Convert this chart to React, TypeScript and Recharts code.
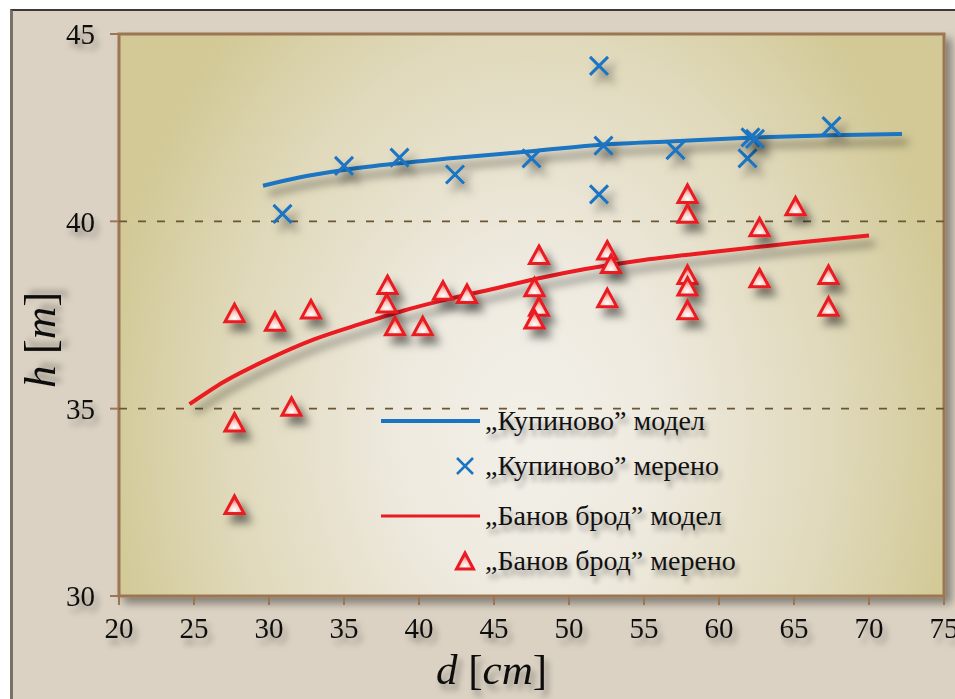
import React from "react";
import {
  ComposedChart,
  XAxis,
  YAxis,
  Line,
  Scatter,
  ReferenceLine,
  ReferenceArea,
  Label,
} from "recharts";

const xTicks = [20, 25, 30, 35, 40, 45, 50, 55, 60, 65, 70, 75];
const yTicks = [30, 35, 40, 45];

// „Купиново” модел
const kupModelD = [29.6, 32, 35, 38.7, 42.5, 47.5, 52.3, 57, 62.3, 67.5, 72.2];
const kupModelH = [40.95, 41.17, 41.37, 41.55, 41.7, 41.87, 42.05, 42.14, 42.24, 42.3, 42.33];

// „Купиново” мерено
const kupMeasD = [30.9, 35.0, 38.7, 42.4, 47.5, 52.0, 52.3, 52.0, 57.1, 61.9, 62.1, 62.4, 67.5];
const kupMeasH = [40.2, 41.48, 41.7, 41.25, 41.68, 44.15, 42.02, 40.72, 41.9, 41.68, 42.24, 42.2, 42.54];

// „Банов брод” модел
const banModelD = [24.7, 27, 30, 33, 36, 39, 42, 45, 48, 51, 55, 60, 65, 70];
const banModelH = [35.12, 35.72, 36.33, 36.85, 37.25, 37.62, 37.93, 38.2, 38.48, 38.72, 38.97, 39.2, 39.42, 39.62];

// „Банов брод” мерено
const banMeasD = [
  27.7, 27.7, 27.7, 30.4, 32.8, 31.5, 37.9, 37.85, 38.4, 40.25, 41.6, 43.2, 48.0, 47.7, 48.0,
  47.7, 52.55, 52.8, 52.55, 57.9, 57.9, 57.9, 57.9, 57.9, 62.7, 62.7, 65.1, 67.3, 67.3,
];
const banMeasH = [
  37.55, 34.63, 32.43, 37.32, 37.65, 35.05, 38.3, 37.81, 37.2, 37.2, 38.15, 38.06, 39.1, 38.24, 37.72,
  37.38, 39.22, 38.86, 37.95, 40.73, 40.2, 38.57, 38.26, 37.63, 39.84, 38.48, 40.4, 38.57, 37.72,
];

const zip = (d: number[], h: number[]) => d.map((v, i) => ({ d: v, h: h[i] }));

const BLUE = "#1b74c2";
const RED = "#ea1a24";
const BROWN = "#9c7652";
const SERIF = "'Liberation Serif', 'Times New Roman', serif";

const Cross = (props: any) => {
  const { cx, cy } = props;
  if (cx == null || cy == null) return null;
  return (
    <path
      d={`M${cx - 9},${cy - 9}L${cx + 9},${cy + 9}M${cx - 9},${cy + 9}L${cx + 9},${cy - 9}`}
      stroke={BLUE}
      strokeWidth={3}
      fill="none"
      filter="url(#markShadow)"
    />
  );
};

const Tri = (props: any) => {
  const { cx, cy } = props;
  if (cx == null || cy == null) return null;
  return (
    <path
      d={`M${cx},${cy - 9}L${cx + 9.5},${cy + 8.5}L${cx - 9.5},${cy + 8.5}Z`}
      fill="url(#triFill)"
      stroke={RED}
      strokeWidth={3}
      filter="url(#markShadow)"
    />
  );
};

const PlotBox = (props: any) => {
  const { x, y, width, height } = props;
  return (
    <rect
      x={x}
      y={y}
      width={width}
      height={height}
      fill="url(#plotBg)"
      stroke={BROWN}
      strokeWidth={3}
      filter="url(#boxShadow)"
    />
  );
};

const XTick = (props: any) => (
  <text
    x={props.x}
    y={props.y}
    dy="0.71em"
    textAnchor="middle"
    fontFamily={SERIF}
    fontSize={29}
    fill="#111"
    filter="url(#txtShadow)"
  >
    {props.payload.value}
  </text>
);

const YTick = (props: any) => (
  <text
    x={props.x}
    y={props.y}
    dy="0.36em"
    textAnchor="end"
    fontFamily={SERIF}
    fontSize={29}
    fill="#111"
    filter="url(#txtShadow)"
  >
    {props.payload.value}
  </text>
);

const legendRows = [
  { label: "„Купиново” модел", icon: "blueLine" },
  { label: "„Купиново” мерено", icon: "cross" },
  { label: "„Банов брод” модел", icon: "redLine" },
  { label: "„Банов брод” мерено", icon: "tri" },
];

function LegendIcon({ kind }: { kind: string }) {
  return (
    <svg width={100} height={24} style={{ overflow: "visible", flex: "none" }}>
      {kind === "blueLine" && <line x1={0} x2={99} y1={12} y2={12} stroke={BLUE} strokeWidth={4} />}
      {kind === "redLine" && <line x1={0} x2={99} y1={12} y2={12} stroke={RED} strokeWidth={3} />}
      {kind === "cross" && (
        <path d="M76,4L92,20M76,20L92,4" stroke={BLUE} strokeWidth={2.5} fill="none" />
      )}
      {kind === "tri" && (
        <g>
          <defs>
            <radialGradient id="triFillL" cx="50%" cy="80%" r="70%">
              <stop offset="0" stopColor="#ffffff" />
              <stop offset="0.5" stopColor="#f6c4b8" />
              <stop offset="1" stopColor="#e84a44" />
            </radialGradient>
          </defs>
          <path d="M84,4L92.5,20L75.5,20Z" fill="url(#triFillL)" stroke={RED} strokeWidth={3} />
        </g>
      )}
    </svg>
  );
}

export default function App() {
  return (
    <div style={{ position: "absolute", left: 0, top: 0, width: 955, height: 699, overflow: "hidden", background: "#fff" }}>
      <div
        style={{
          position: "absolute",
          left: 10,
          top: 9,
          width: 960,
          height: 700,
          background: "#dbd2c3",
          borderLeft: "3px solid #77716a",
          borderTop: "2px solid #3a3a3a",
          boxSizing: "border-box",
        }}
      />
      <div style={{ position: "absolute", left: 0, top: 0 }}>
        <ComposedChart width={955} height={699} margin={{ top: 34, right: 11, bottom: 43, left: 59 }}>
          <defs>
            <radialGradient
              id="plotBg"
              gradientUnits="userSpaceOnUse"
              cx={0}
              cy={0}
              r={1}
              gradientTransform="translate(530 430) scale(430 560)"
            >
              <stop offset="0" stopColor="#f3f0e9" />
              <stop offset="0.3" stopColor="#eeeadf" />
              <stop offset="0.7" stopColor="#e0d9bb" />
              <stop offset="1" stopColor="#d2c996" />
            </radialGradient>
            <radialGradient id="triFill" cx="50%" cy="80%" r="70%">
              <stop offset="0" stopColor="#ffffff" />
              <stop offset="0.5" stopColor="#f6c4b8" />
              <stop offset="1" stopColor="#e84a44" />
            </radialGradient>
            <filter id="markShadow" filterUnits="userSpaceOnUse" x={0} y={0} width={955} height={699}>
              <feDropShadow dx={6} dy={8} stdDeviation={4} floodColor="#000" floodOpacity={0.5} />
            </filter>
            <filter id="boxShadow" filterUnits="userSpaceOnUse" x={0} y={0} width={955} height={699}>
              <feDropShadow dx={6} dy={6} stdDeviation={4} floodColor="#000" floodOpacity={0.4} />
            </filter>
            <filter id="txtShadow" filterUnits="userSpaceOnUse" x={0} y={0} width={955} height={699}>
              <feDropShadow dx={4} dy={6} stdDeviation={3} floodColor="#000" floodOpacity={0.35} />
            </filter>
          </defs>

          <XAxis
            type="number"
            dataKey="d"
            domain={[20, 75]}
            ticks={xTicks}
            allowDataOverflow
            height={60}
            axisLine={false}
            tickSize={9}
            tickMargin={12}
            tickLine={{ stroke: BROWN, strokeWidth: 2 }}
            tick={<XTick />}
          >
            <Label
              content={(p: any) => {
                const vb = p.viewBox || { x: 119, y: 596, width: 825, height: 60 };
                return (
                  <text
                    x={vb.x + vb.width / 2 - 40}
                    y={vb.y + vb.height + 28}
                    textAnchor="middle"
                    fontFamily={SERIF}
                    fontSize={43}
                    fill="#111"
                    filter="url(#txtShadow)"
                  >
                    <tspan fontStyle="italic">d</tspan>
                    <tspan> [</tspan>
                    <tspan fontStyle="italic">cm</tspan>
                    <tspan>]</tspan>
                  </text>
                );
              }}
            />
          </XAxis>
          <YAxis
            type="number"
            domain={[30, 45]}
            ticks={yTicks}
            allowDataOverflow
            width={60}
            axisLine={false}
            tickSize={9}
            tickMargin={15}
            tickLine={{ stroke: BROWN, strokeWidth: 2 }}
            tick={<YTick />}
          >
            <Label
              content={(p: any) => {
                const vb = p.viewBox || { x: 59, y: 34, width: 60, height: 562 };
                const cx = vb.x - 4;
                const cy = vb.y + vb.height / 2 + 25;
                return (
                  <text
                    x={cx}
                    y={cy}
                    transform={`rotate(-90 ${cx} ${cy})`}
                    textAnchor="middle"
                    fontFamily={SERIF}
                    fontSize={45}
                    fill="#111"
                    filter="url(#txtShadow)"
                  >
                    <tspan fontStyle="italic">h</tspan>
                    <tspan> [</tspan>
                    <tspan fontStyle="italic">m</tspan>
                    <tspan>]</tspan>
                  </text>
                );
              }}
            />
          </YAxis>

          <ReferenceArea x1={20} x2={75} y1={30} y2={45} shape={PlotBox} ifOverflow="visible" />
          <ReferenceLine y={40} stroke="#6b5634" strokeWidth={1.6} strokeDasharray="8 11" />
          <ReferenceLine y={35} stroke="#6b5634" strokeWidth={1.6} strokeDasharray="8 11" />

          <Line
            data={zip(kupModelD, kupModelH)}
            dataKey="h"
            type="monotone"
            stroke={BLUE}
            strokeWidth={4}
            dot={false}
            activeDot={false}
            isAnimationActive={false}
            filter="url(#markShadow)"
          />
          <Line
            data={zip(banModelD, banModelH)}
            dataKey="h"
            type="monotone"
            stroke={RED}
            strokeWidth={4}
            dot={false}
            activeDot={false}
            isAnimationActive={false}
            filter="url(#markShadow)"
          />
          <Scatter data={zip(kupMeasD, kupMeasH)} dataKey="h" shape={Cross} isAnimationActive={false} />
          <Scatter data={zip(banMeasD, banMeasH)} dataKey="h" shape={Tri} isAnimationActive={false} />
        </ComposedChart>
      </div>

      <div style={{ position: "absolute", left: 381, top: 398.5, fontFamily: SERIF, fontSize: 28, color: "#111" }}>
        {legendRows.map((r, i) => (
          <div
            key={r.label}
            style={{
              display: "flex",
              alignItems: "center",
              height: 45,
              marginTop: i === 2 ? 5 : 0,
              whiteSpace: "nowrap",
            }}
          >
            <LegendIcon kind={r.icon} />
            <span style={{ marginLeft: 4, textShadow: "3px 6px 5px rgba(0,0,0,0.35)" }}>{r.label}</span>
          </div>
        ))}
      </div>
    </div>
  );
}
